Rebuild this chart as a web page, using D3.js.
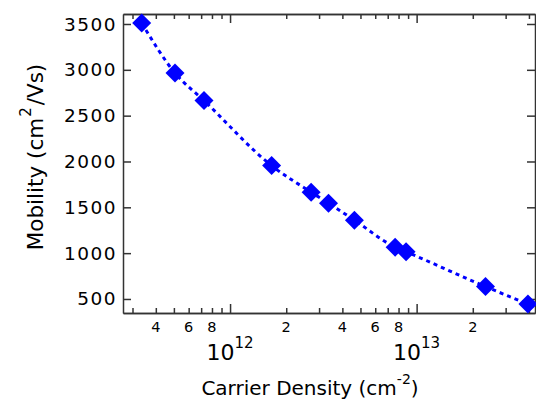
<!DOCTYPE html>
<html>
<head>
<meta charset="utf-8">
<script src="https://cdn.jsdelivr.net/npm/d3@7"></script>
<style>
  body { margin: 0; background: #fff; }
  text { font-family: "DejaVu Sans", sans-serif; fill: #000; }
  .axis path, .axis line { stroke: #333; stroke-width: 1.5; }
</style>
</head>
<body>
<div id="chart"></div>
<script>
// carrier density (cm^-2) and mobility (cm^2/Vs)
var density = [3.36e11, 5.07e11, 7.25e11, 1.67e12, 2.72e12, 3.37e12, 4.64e12, 7.67e12, 8.78e12, 2.34e13, 3.95e13];
var mobility = [3510, 2965, 2665, 1955, 1665, 1545, 1360, 1065, 1015, 635, 445];

var yTicks = [500, 1000, 1500, 2000, 2500, 3000, 3500];
var xMajor = [1e12, 1e13];
var xMajorExp = ["12", "13"];
var xMinorLabeled = [4e11, 6e11, 8e11, 2e12, 4e12, 6e12, 8e12, 2e13];

var width = 536, height = 403;
var margin = { top: 14, right: 1, bottom: 90, left: 123 };
var w = width - margin.left - margin.right;
var h = height - margin.top - margin.bottom;

var svg = d3.select('#chart').append('svg')
  .attr('width', width)
  .attr('height', height);

var g = svg.append('g')
  .attr('transform', 'translate(' + margin.left + ',' + margin.top + ')');

var x = d3.scaleLog().domain([2.668e11, 4.31e13]).range([0, w]);
var y = d3.scaleLinear().domain([347, 3609]).range([h, 0]);

var minorTicks = x.ticks().filter(function(d){
  return xMajor.indexOf(d) < 0;
});

// bottom axis: minor then major ticks, inward
g.append('g').attr('class', 'axis')
  .attr('transform', 'translate(0,' + h + ')')
  .call(d3.axisBottom(x).tickValues(minorTicks).tickSizeInner(-5).tickSizeOuter(0).tickFormat(''));
g.append('g').attr('class', 'axis')
  .attr('transform', 'translate(0,' + h + ')')
  .call(d3.axisBottom(x).tickValues(xMajor).tickSizeInner(-9).tickSizeOuter(0).tickFormat(''));

// top axis mirrored
g.append('g').attr('class', 'axis')
  .call(d3.axisTop(x).tickValues(minorTicks).tickSizeInner(-5).tickSizeOuter(0).tickFormat(''));
g.append('g').attr('class', 'axis')
  .call(d3.axisTop(x).tickValues(xMajor).tickSizeInner(-9).tickSizeOuter(0).tickFormat(''));

// left / right axes
g.append('g').attr('class', 'axis')
  .call(d3.axisLeft(y).tickValues(yTicks).tickSizeInner(-8).tickSizeOuter(0).tickFormat(''));
g.append('g').attr('class', 'axis')
  .attr('transform', 'translate(' + w + ',0)')
  .call(d3.axisRight(y).tickValues(yTicks).tickSizeInner(-8).tickSizeOuter(0).tickFormat(''));

g.selectAll('.domain').attr('stroke', '#333').attr('stroke-width', 1.5);

// y tick labels
g.selectAll('.ylab')
  .data(yTicks).enter().append('text')
  .attr('class', 'ylab')
  .attr('x', -6)
  .attr('y', function(d){ return y(d) + 6.5 })
  .attr('text-anchor', 'end')
  .attr('font-size', '18.5px')
  .attr('letter-spacing', '1.5px')
  .text(function(d){ return d });

// minor x labels
g.selectAll('.xminor')
  .data(xMinorLabeled).enter().append('text')
  .attr('class', 'xminor')
  .attr('x', function(d){ return x(d) })
  .attr('y', h + 19)
  .attr('text-anchor', 'middle')
  .attr('font-size', '14.5px')
  .text(function(d){ return Math.round(d / Math.pow(10, Math.floor(Math.log10(d)))) });

// decade labels 10^12, 10^13
var major = g.selectAll('.xmajor')
  .data(xMajor).enter().append('text')
  .attr('class', 'xmajor')
  .attr('x', function(d){ return x(d) })
  .attr('y', h + 47)
  .attr('text-anchor', 'middle')
  .attr('font-size', '22px');
major.append('tspan').text('10');
major.append('tspan')
  .attr('font-size', '15px')
  .attr('dy', -12)
  .text(function(d,i){ return xMajorExp[i] });

// axis titles
var xt = svg.append('text')
  .attr('x', margin.left + w / 2 - 19)
  .attr('y', 395)
  .attr('text-anchor', 'middle')
  .attr('font-size', '20px');
xt.append('tspan').text('Carrier Density (cm');
xt.append('tspan').attr('font-size', '14px').attr('dy', -11).text('-2');
xt.append('tspan').attr('dy', 11).text(')');

var yt = svg.append('text')
  .attr('transform', 'translate(43,157) rotate(-90)')
  .attr('text-anchor', 'middle')
  .attr('font-size', '21.5px');
yt.append('tspan').text('Mobility (cm');
yt.append('tspan').attr('font-size', '15px').attr('dy', -12).attr('dx', 1).text('2');
yt.append('tspan').attr('dy', 12).attr('dx', 2).text('/Vs)');

// data
var pts = density.map(function(d, i){ return [d, mobility[i]] });

var line = d3.line()
  .x(function(d){ return x(d[0]) })
  .y(function(d){ return y(d[1]) })
  .curve(d3.curveMonotoneX);

g.append('path')
  .datum(pts)
  .attr('d', line)
  .attr('fill', 'none')
  .attr('stroke', '#0000ff')
  .attr('stroke-width', 3)
  .attr('stroke-dasharray', '4,4');

g.selectAll('.pt')
  .data(pts).enter().append('path')
  .attr('class', 'pt')
  .attr('d', d3.symbol().type(d3.symbolSquare).size(180))
  .attr('transform', function(d){ return 'translate(' + x(d[0]) + ',' + y(d[1]) + ') rotate(45)' })
  .attr('fill', '#0000ff');
</script>
</body>
</html>
